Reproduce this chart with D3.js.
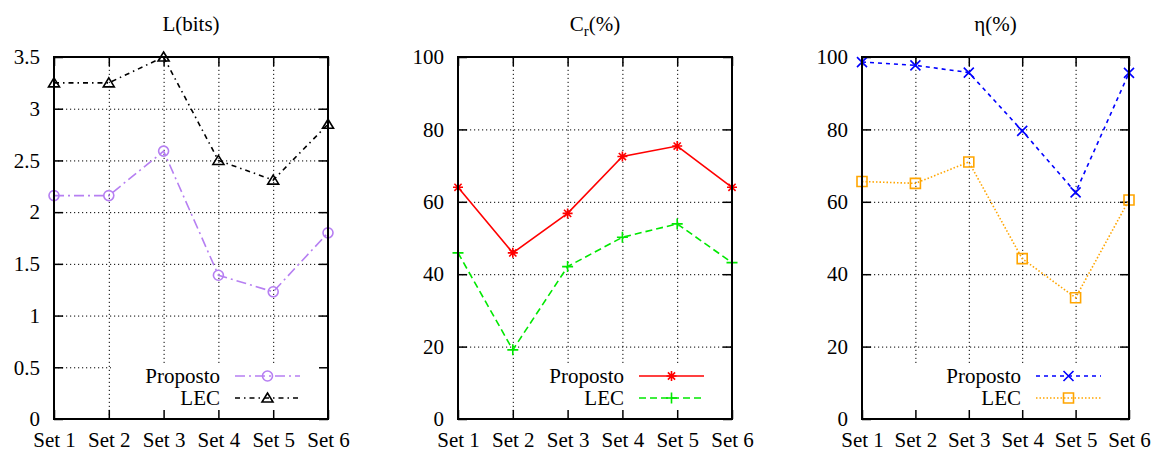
<!DOCTYPE html>
<html>
<head>
<meta charset="utf-8">
<script src="https://cdn.jsdelivr.net/npm/d3@7"></script>
<style>
  body { margin: 0; background: #fff; }
  svg { display: block; }
  svg text { font-family: "Liberation Serif", "Times New Roman", Tinos, "DejaVu Serif", "Noto Serif", serif !important; }
  .grid line { stroke: #000; stroke-width: 1; stroke-dasharray: 1.2,2.8; }
  .grid path { display: none; }
  .ax path { display: none; }
  .ax line { stroke: #000; stroke-width: 1.5; }
  .ax text { font-size: 21px; fill: #000; }
</style>
</head>
<body>
<div id="chart"></div>
<script>
// values
const sets = ['Set 1', 'Set 2', 'Set 3', 'Set 4', 'Set 5', 'Set 6']
const lProposto = [2.16, 2.16, 2.59, 1.39, 1.23, 1.80]
const lLec = [3.25, 3.25, 3.50, 2.50, 2.31, 2.85]
const crProposto = [64.0, 45.9, 56.8, 72.5, 75.4, 64.0]
const crLec = [45.9, 19.1, 42.1, 50.2, 53.9, 43.2]
const etaProposto = [98.6, 97.7, 95.7, 79.6, 62.6, 95.6]
const etaLec = [65.6, 65.1, 71.0, 44.3, 33.5, 60.5]
const lTicks = [0, 0.5, 1, 1.5, 2, 2.5, 3, 3.5]
const pctTicks = [0, 20, 40, 60, 80, 100]
const seriesNames = ['Proposto', 'LEC']

const w = 1160, h = 454
const plotTop = 57, plotBottom = 419

const svg = d3.select('#chart').append('svg').attr('width', w).attr('height', h)

// marker shapes centred on 0,0
const markers = {
  circle: 'M5,0A5,5 0 1,1 -5,0A5,5 0 1,1 5,0Z',
  triangle: 'M0,-5L5.5,4L-5.5,4Z',
  star: 'M-5,0L5,0M0,-5L0,5M-3.6,-3.6L3.6,3.6M-3.6,3.6L3.6,-3.6',
  plus: 'M-5.5,0L5.5,0M0,-5.5L0,5.5',
  cross: 'M-5,-5L5,5M-5,5L5,-5',
  square: 'M-5,-5L5,-5L5,5L-5,5Z'
}

const panels = [
  { left: 54, right: 328, max: 3.5, ticks: lTicks, fmt: d => String(d),
    title: 'L(bits)', data: [lProposto, lLec],
    styles: [
      { color: '#b67ff2', dash: '10,4,2,4', mark: 'circle' },
      { color: '#000', dash: '5,4,1.5,4', mark: 'triangle' }
    ] },
  { left: 458, right: 732, max: 100, ticks: pctTicks, fmt: d => String(d),
    title: 'Cr', data: [crProposto, crLec],
    styles: [
      { color: '#ff0000', dash: null, mark: 'star' },
      { color: '#00e800', dash: '7,4', mark: 'plus' }
    ] },
  { left: 862, right: 1129, max: 100, ticks: pctTicks, fmt: d => String(d),
    title: 'η(%)', data: [etaProposto, etaLec],
    styles: [
      { color: '#0000ff', dash: '4,4', mark: 'cross' },
      { color: '#ffa500', dash: '1.5,2', mark: 'square' }
    ] }
]

panels.forEach(function (p) {
  const xScale = d3.scalePoint().domain(sets).range([p.left, p.right])
  const yScale = d3.scaleLinear().domain([0, p.max]).range([plotBottom, plotTop])
  const pw = p.right - p.left
  const g = svg.append('g')

  // grid
  g.append('g').attr('class', 'grid')
   .attr('transform', 'translate(' + p.left + ',0)')
   .call(d3.axisLeft(yScale).tickValues(p.ticks.slice(1, -1)).tickSize(-pw).tickFormat(''))
  g.append('g').attr('class', 'grid')
   .attr('transform', 'translate(0,' + plotBottom + ')')
   .call(d3.axisBottom(xScale).tickValues(sets.slice(1, -1)).tickSize(-(plotBottom - plotTop)).tickFormat(''))

  // key area hides the grid
  g.append('rect')
   .attr('x', p.right - 217).attr('y', 363)
   .attr('width', 217).attr('height', plotBottom - 363)
   .attr('fill', '#fff')

  // axes with inward ticks on all four sides
  g.append('g').attr('class', 'ax')
   .attr('transform', 'translate(' + p.left + ',0)')
   .call(d3.axisLeft(yScale).tickValues(p.ticks).tickSize(-9).tickPadding(14).tickFormat(p.fmt))
  g.append('g').attr('class', 'ax')
   .attr('transform', 'translate(' + p.right + ',0)')
   .call(d3.axisRight(yScale).tickValues(p.ticks).tickSize(-9).tickFormat(''))
  g.append('g').attr('class', 'ax')
   .attr('transform', 'translate(0,' + plotBottom + ')')
   .call(d3.axisBottom(xScale).tickSize(-9).tickPadding(13))
  g.append('g').attr('class', 'ax')
   .attr('transform', 'translate(0,' + plotTop + ')')
   .call(d3.axisTop(xScale).tickSize(-9).tickFormat(''))

  // title
  const t = g.append('text')
   .attr('x', (p.left + p.right) / 2).attr('y', 31)
   .attr('text-anchor', 'middle').attr('font-size', 21)
  if (p.title === 'Cr') {
    t.append('tspan').text('C')
    t.append('tspan').attr('font-size', 15).attr('dy', 5).text('r')
    t.append('tspan').attr('dy', -5).text('(%)')
  } else {
    t.text(p.title)
  }

  // series
  const line = d3.line().x((d, i) => xScale(sets[i])).y(d => yScale(d))
  p.data.forEach(function (vals, k) {
    const s = p.styles[k]
    g.append('path')
     .attr('d', line(vals))
     .attr('fill', 'none')
     .attr('stroke', s.color)
     .attr('stroke-width', 1.6)
     .attr('stroke-dasharray', s.dash)
    g.selectAll('.m' + k).data(vals).enter()
     .append('path')
     .attr('d', markers[s.mark])
     .attr('transform', (d, i) => 'translate(' + xScale(sets[i]) + ',' + yScale(d) + ')')
     .attr('fill', 'none')
     .attr('stroke', s.color)
     .attr('stroke-width', 1.6)

    // key row
    const ky = k === 0 ? 376 : 398
    const x0 = p.right - 93, x1 = p.right - 28
    g.append('text')
     .attr('x', p.right - 108).attr('y', ky + 7)
     .attr('text-anchor', 'end').attr('font-size', 21)
     .text(seriesNames[k])
    g.append('line')
     .attr('x1', x0).attr('x2', x1).attr('y1', ky).attr('y2', ky)
     .attr('stroke', s.color).attr('stroke-width', 1.6)
     .attr('stroke-dasharray', s.dash)
    g.append('path')
     .attr('d', markers[s.mark])
     .attr('transform', 'translate(' + ((x0 + x1) / 2) + ',' + ky + ')')
     .attr('fill', 'none').attr('stroke', s.color).attr('stroke-width', 1.6)
  })

  // border
  g.append('rect')
   .attr('x', p.left).attr('y', plotTop)
   .attr('width', pw).attr('height', plotBottom - plotTop)
   .attr('fill', 'none').attr('stroke', '#000').attr('stroke-width', 2)
})
</script>
</body>
</html>
